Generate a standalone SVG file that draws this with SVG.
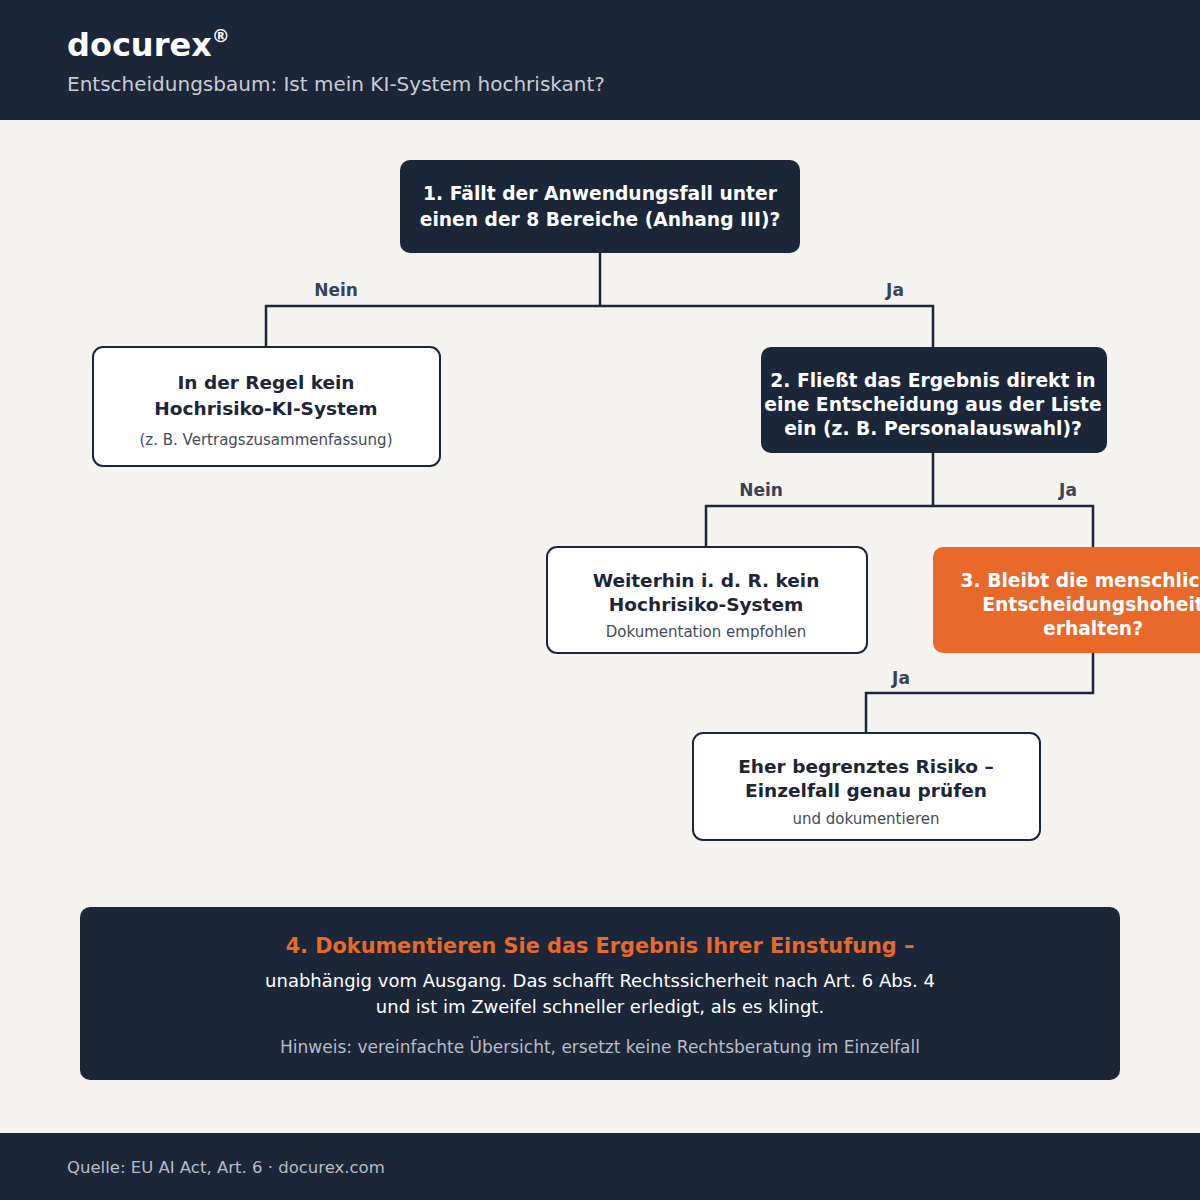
<svg xmlns="http://www.w3.org/2000/svg" width="1200" height="1200" viewBox="0 0 1200 1200">
<style>
text{font-family:"DejaVu Sans","Liberation Sans",sans-serif}
.dark{fill:#1c2639}
.white{fill:#ffffff;stroke:#1c2639;stroke-width:2}
.q{fill:#ffffff;font-weight:bold;font-size:18.7px;text-anchor:middle}
.a{fill:#1c2639;font-weight:bold;font-size:18.5px;text-anchor:middle}
.s{fill:#444b57;font-size:15px;text-anchor:middle}
.lbl{fill:#3a4356;font-weight:bold;font-size:17px;text-anchor:middle}
.conn{fill:none;stroke:#1c2639;stroke-width:2.5}
</style>
<rect width="1200" height="1200" fill="#f5f3ef"/>
<g id="header">
<rect width="1200" height="120" class="dark"/>
<text x="67" y="56" fill="#fff" font-size="32" font-weight="bold">docurex<tspan font-size="18" dy="-14">®</tspan></text>
<text x="67" y="91" fill="#c8ccd4" font-size="20">Entscheidungsbaum: Ist mein KI-System hochriskant?</text>
</g>
<g id="connectors">
<path class="conn" d="M600,253V306M266,347V306H933V347"/>
<path class="conn" d="M933,453V506M706,547V506H1093V547"/>
<path class="conn" d="M1093,653V693H866V733"/>
<text class="lbl" x="336" y="296">Nein</text>
<text class="lbl" x="895" y="296">Ja</text>
<text class="lbl" x="761" y="496">Nein</text>
<text class="lbl" x="1068" y="496">Ja</text>
<text class="lbl" x="901" y="684">Ja</text>
</g>
<g id="n1">
<rect x="400" y="160" width="400" height="93" rx="10" class="dark"/>
<text class="q" x="600" y="200">1. Fällt der Anwendungsfall unter</text>
<text class="q" x="600" y="226">einen der 8 Bereiche (Anhang III)?</text>
</g>
<g id="nein1">
<rect x="93" y="347" width="347" height="119" rx="10" class="white"/>
<text class="a" x="266" y="389">In der Regel kein</text>
<text class="a" x="266" y="415">Hochrisiko-KI-System</text>
<text class="s" x="266" y="445" font-size="16">(z. B. Vertragszusammenfassung)</text>
</g>
<g id="n2">
<rect x="761" y="347" width="346" height="106" rx="10" class="dark"/>
<text class="q" x="933" y="387" font-size="17">2. Fließt das Ergebnis direkt in</text>
<text class="q" x="933" y="411" font-size="17">eine Entscheidung aus der Liste</text>
<text class="q" x="933" y="435" font-size="17">ein (z. B. Personalauswahl)?</text>
</g>
<g id="nein2">
<rect x="547" y="547" width="320" height="106" rx="10" class="white"/>
<text class="a" x="706" y="587" font-size="16.8">Weiterhin i. d. R. kein</text>
<text class="a" x="706" y="611" font-size="16.8">Hochrisiko-System</text>
<text class="s" x="706" y="637">Dokumentation empfohlen</text>
</g>
<g id="n3">
<rect x="933" y="547" width="300" height="106" rx="10" fill="#e8692a"/>
<text class="q" x="1093" y="587" font-size="17">3. Bleibt die menschliche</text>
<text class="q" x="1093" y="611" font-size="17">Entscheidungshoheit</text>
<text class="q" x="1093" y="635" font-size="17">erhalten?</text>
</g>
<g id="ja3">
<rect x="693" y="733" width="347" height="107" rx="10" class="white"/>
<text class="a" x="866" y="773" font-size="16.6">Eher begrenztes Risiko –</text>
<text class="a" x="866" y="797" font-size="16.6">Einzelfall genau prüfen</text>
<text class="s" x="866" y="824">und dokumentieren</text>
</g>
<g id="n4">
<rect x="80" y="907" width="1040" height="173" rx="10" class="dark"/>
<text x="600" y="953" text-anchor="middle" fill="#e8692a" font-size="20.8" font-weight="bold">4. Dokumentieren Sie das Ergebnis Ihrer Einstufung –</text>
<text x="600" y="987" text-anchor="middle" fill="#fff" font-size="18">unabhängig vom Ausgang. Das schafft Rechtssicherheit nach Art. 6 Abs. 4</text>
<text x="600" y="1013" text-anchor="middle" fill="#fff" font-size="18">und ist im Zweifel schneller erledigt, als es klingt.</text>
<text x="600" y="1053" text-anchor="middle" fill="#b8bcc6" font-size="17">Hinweis: vereinfachte Übersicht, ersetzt keine Rechtsberatung im Einzelfall</text>
</g>
<g id="footer">
<rect y="1133" width="1200" height="67" class="dark"/>
<text x="67" y="1173" fill="#b8bcc6" font-size="16.5">Quelle: EU AI Act, Art. 6 · docurex.com</text>
</g>
</svg>
